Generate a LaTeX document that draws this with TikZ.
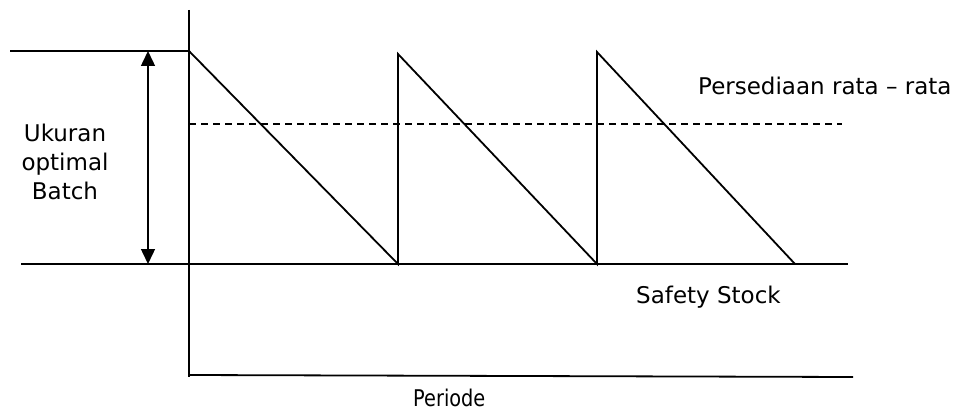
\documentclass[tikz,border=0pt]{standalone}
\usepackage{fontspec}
\setmainfont{DejaVu Sans}
\usepackage{graphicx}
\usetikzlibrary{arrows.meta}
\begin{document}
\begin{tikzpicture}[x=1pt,y=-1pt,
  axisline/.style={line width=1.8pt,black},
  sawline/.style={line width=1.8pt,black,line join=miter},
  avgline/.style={line width=1.6pt,black,dash pattern=on 7pt off 5pt},
  lbl/.style={inner sep=0pt,font=\fontsize{23}{29}\selectfont},
  dimarrow/.style={line width=1.5pt,{Triangle[width=14pt,length=15pt]}-{Triangle[width=14pt,length=15pt]}}]
\useasboundingbox (0,0) rectangle (964,412);
% coordinates
\coordinate (yTop) at (189,10);
\coordinate (yBot) at (189,377);
\coordinate (xL) at (189,375);
\coordinate (xR) at (853,377);
\coordinate (topL) at (10,51);
\coordinate (q0) at (189,51);
\coordinate (ssL) at (21,264);
\coordinate (ssR) at (848,264);
\coordinate (b1) at (398,264);
\coordinate (p1) at (398,54);
\coordinate (b2) at (597,264);
\coordinate (p2) at (597,52);
\coordinate (b3) at (795,264);
\coordinate (avgL) at (189,124);
\coordinate (avgR) at (842,124);
\coordinate (arT) at (148,51);
\coordinate (arB) at (148,264);
% axes and lines
\draw[axisline] (yTop) -- (yBot);
\draw[axisline] (xL) -- (xR);
\draw[axisline] (topL) -- (q0);
\draw[axisline] (ssL) -- (ssR);
\draw[sawline] (q0) -- (b1) -- (p1) -- (b2) -- (p2) -- (b3);
\draw[avgline] (avgL) -- (avgR);
\draw[dimarrow] (arT) -- (arB);
% labels
\node[lbl,align=center] (batch) at (65,162) {Ukuran\\optimal\\Batch};
\node[lbl,anchor=base west] (avg) at (698,95) {Persediaan rata – rata};
\node[lbl,anchor=base west] (ss) at (636,303) {Safety Stock};
\node[inner sep=0pt,anchor=base west,font=\fontsize{23}{29}\selectfont] (per) at (413,406) {\scalebox{0.84}[1]{Periode}};
\end{tikzpicture}
\end{document}
